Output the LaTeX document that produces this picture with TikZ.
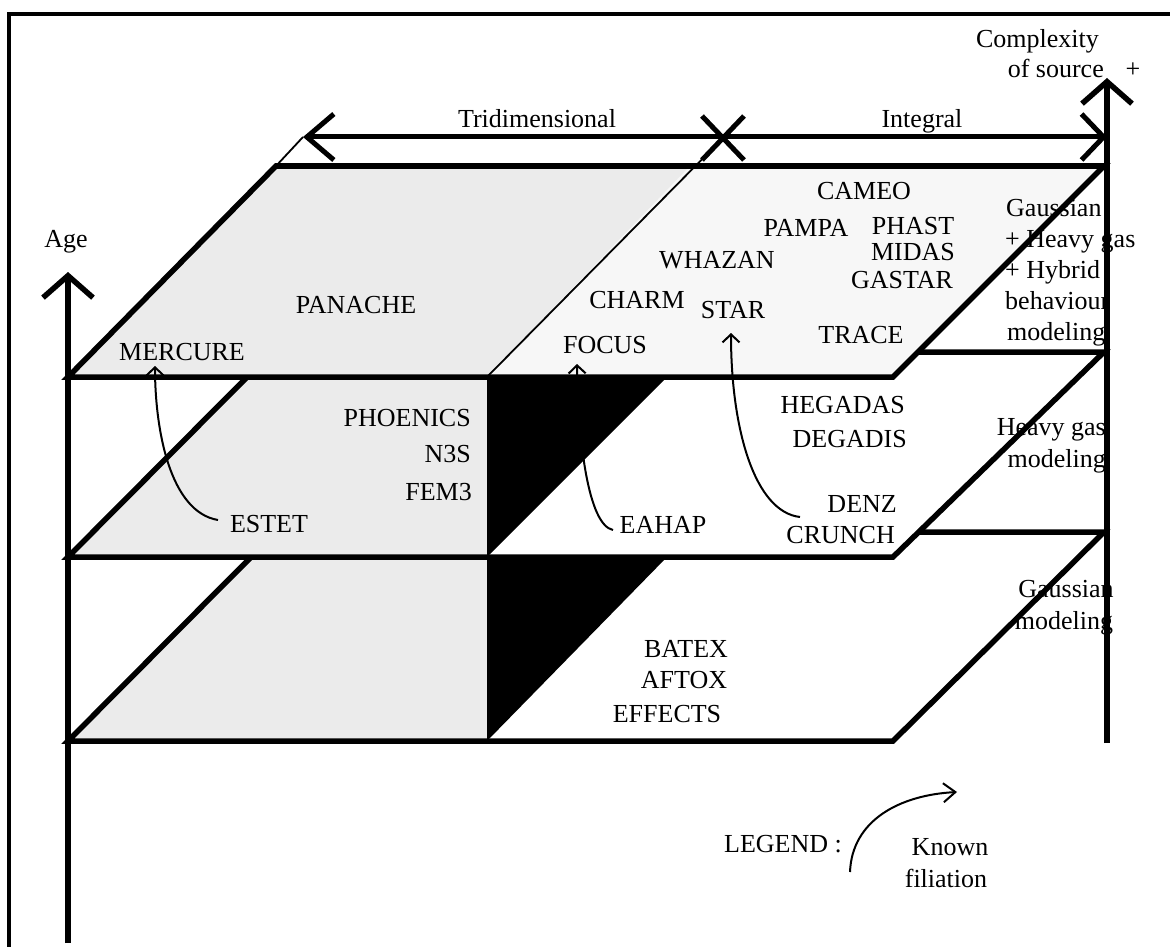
\documentclass[tikz,border=0pt]{standalone}
\usepackage{fontspec}
\setmainfont{Liberation Serif}
\usetikzlibrary{arrows.meta}
\begin{document}
\begin{tikzpicture}[x=1pt,y=-1pt,
  lbl/.style={inner sep=0pt, font=\fontsize{26}{31}\selectfont},
  edge/.style={line width=5.5pt, line join=miter},
  thinedge/.style={line width=1.8pt},
  frameline/.style={line width=4pt},
  axisarrow/.style={line width=5.5pt, -{Straight Barb[length=22pt,width=50pt]}},
  filiation/.style={line width=2pt, -{Straight Barb[length=8pt,width=17pt]}},
  greyfill/.style={fill=black!8},
  lightfill/.style={fill=black!3},
  blackfill/.style={fill=black},
]
\useasboundingbox (0,0) rectangle (1170,947);
% frame
\draw[frameline] (9,947) -- (9,14) -- (1170,14);

% ---------- bottom plane ----------
\fill[white] (68,741) -- (893,741) -- (1104,532) -- (276,532) -- cycle;
\fill[greyfill] (68,741) -- (487,741) -- (487,532) -- (276,532) -- cycle;
\fill[blackfill] (487,557) -- (667,557) -- (487,741) -- cycle;
\draw[edge] (68,741) -- (893,741) -- (1104,532) -- (276,532) -- cycle;

% ---------- middle plane ----------
\fill[white] (68,557) -- (893,557) -- (1104,352) -- (272,352) -- cycle;
\fill[greyfill] (68,557) -- (487,557) -- (487,352) -- (272,352) -- cycle;
\fill[blackfill] (487,377) -- (667,377) -- (487,557) -- cycle;
\draw[edge] (68,557) -- (893,557) -- (1104,352) -- (272,352) -- cycle;

% ---------- top plane ----------
\fill[lightfill] (487,377) -- (893,377) -- (1104,166) -- (690,166) -- cycle;
\fill[greyfill] (68,377) -- (487,377) -- (690,166) -- (276,166) -- cycle;
\draw[edge] (68,377) -- (893,377) -- (1104,166) -- (276,166) -- cycle;

% dimension line
\coordinate (dimL) at (303,137);
\coordinate (dimR) at (1107,137);
\coordinate (dimX) at (723,138);
\draw[thinedge] (276,166) -- (dimL);
\draw[thinedge] (487,377) -- (dimX);
\draw[line width=5pt, {Straight Barb[length=27pt,width=46pt]}-{Straight Barb[length=22pt,width=46pt]}] (dimL) -- (dimR);
\draw[line width=5pt] ([shift={(-21,-22)}]dimX) -- ([shift={(21,22)}]dimX)
                      ([shift={(21,-22)}]dimX) -- ([shift={(-21,22)}]dimX);

% labels
\node[lbl, anchor=base] (age) at (66,247) {Age};
\node[lbl, anchor=base east] (cx1) at (1099,48) {Complexity};
\node[lbl, anchor=base east] (cx2) at (1104,78) {of source};
\node[lbl, anchor=base] (plus) at (1133,78) {+};
\node[lbl, anchor=base] (tri) at (537,128) {Tridimensional};
\node[lbl, anchor=base] (integ) at (922,128) {Integral};

\node[lbl, anchor=base] (cameo) at (864,199) {CAMEO};
\node[lbl, anchor=base] (pampa) at (806,236) {PAMPA};
\node[lbl, anchor=base] (phast) at (913,234) {PHAST};
\node[lbl, anchor=base] (whazan) at (717,268) {WHAZAN};
\node[lbl, anchor=base] (midas) at (913,260) {MIDAS};
\node[lbl, anchor=base] (gastar) at (902,288) {GASTAR};
\node[lbl, anchor=base] (charm) at (637,308) {CHARM};
\node[lbl, anchor=base] (star) at (733,318) {STAR};
\node[lbl, anchor=base] (panache) at (356,313) {PANACHE};
\node[lbl, anchor=base] (mercure) at (182,360) {MERCURE};
\node[lbl, anchor=base] (focus) at (605,353) {FOCUS};
\node[lbl, anchor=base] (trace) at (861,343) {TRACE};

\node[lbl, anchor=base east] (phoenics) at (471,426) {PHOENICS};
\node[lbl, anchor=base east] (n3s) at (471,462) {N3S};
\node[lbl, anchor=base east] (fem3) at (472,500) {FEM3};
\node[lbl, anchor=base] (estet) at (269,532) {ESTET};
\node[lbl, anchor=base] (eahap) at (663,533) {EAHAP};
\node[lbl, anchor=base east] (hegadas) at (905,413) {HEGADAS};
\node[lbl, anchor=base east] (degadis) at (907,447) {DEGADIS};
\node[lbl, anchor=base east] (denz) at (897,512) {DENZ};
\node[lbl, anchor=base east] (crunch) at (895,543) {CRUNCH};

\node[lbl, anchor=base] (batex) at (686,657) {BATEX};
\node[lbl, anchor=base] (aftox) at (684,688) {AFTOX};
\node[lbl, anchor=base] (effects) at (667,722) {EFFECTS};

\node[lbl, anchor=base west] (g1) at (1006,216) {Gaussian};
\node[lbl, anchor=base west] (g2) at (1005,247) {+ Heavy gas};
\node[lbl, anchor=base west] (g3) at (1005,278) {+ Hybrid};
\node[lbl, anchor=base west] (g4) at (1005,309) {behaviour};
\node[lbl, anchor=base west] (g5) at (1007,340) {modeling};

\node[lbl, anchor=base east] (h1) at (1106,435) {Heavy gas};
\node[lbl, anchor=base east] (h2) at (1106,467) {modeling};

\node[lbl, anchor=base] (b1) at (1066,597) {Gaussian};
\node[lbl, anchor=base] (b2) at (1064,629) {modeling};

\node[lbl, anchor=base] (legend) at (783,852) {LEGEND :};
\node[lbl, anchor=base] (known) at (950,855) {Known};
\node[lbl, anchor=base] (filia) at (946,887) {filiation};

% axes
\coordinate (ageBot) at (68,943);
\coordinate (ageTop) at (68,272);
\coordinate (cxBot) at (1107,743);
\coordinate (cxTop) at (1107,78);
\draw[axisarrow] (ageBot) -- (ageTop);
\draw[axisarrow] (cxBot) -- (cxTop);

% filiation arrows
\coordinate (estetS) at (218,520);
\coordinate (mercT) at (155,366);
\draw[filiation] (estetS) .. controls (170,512) and (155,430) .. (mercT);
\coordinate (eahapS) at (613,530);
\coordinate (focusT) at (577,364);
\draw[filiation] (eahapS) .. controls (588,525) and (578,440) .. (focusT);
\coordinate (denzS) at (800,517);
\coordinate (starT) at (731,333);
\draw[filiation] (denzS) .. controls (755,512) and (731,430) .. (starT);
\coordinate (legS) at (850,872);
\coordinate (legT) at (957,792);
\draw[line width=2pt, -{Straight Barb[length=12pt,width=19pt]}] (legS) .. controls (852,820) and (900,795) .. (legT);
\end{tikzpicture}
\end{document}
